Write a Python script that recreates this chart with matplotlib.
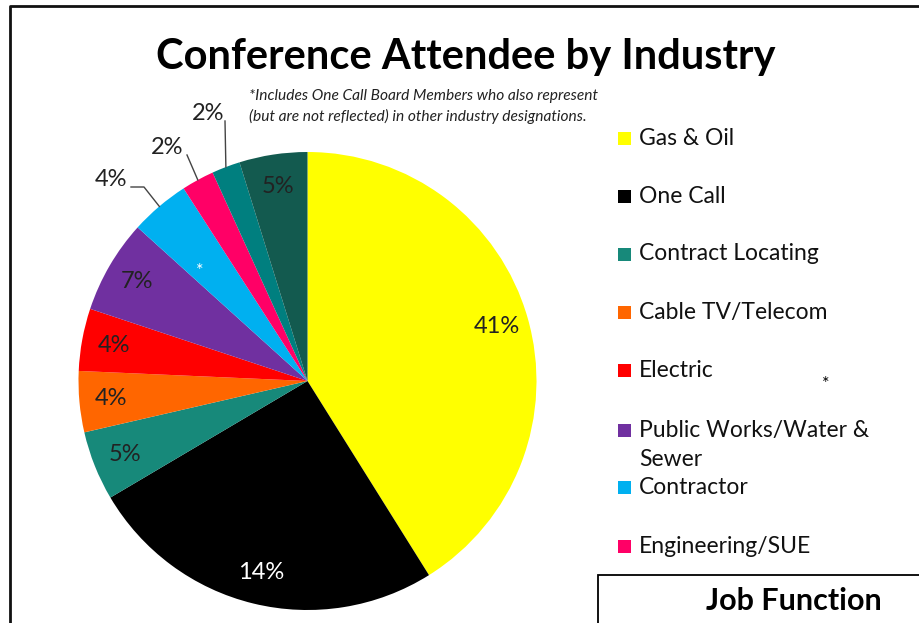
import numpy as np
import matplotlib.pyplot as plt
from matplotlib.patches import Rectangle

# slice sizes (percent of the circle)
industries = ["Gas & Oil", "One Call", "Contract Locating", "Cable TV/Telecom",
              "Electric", "Public Works/Water &\nSewer", "Contractor",
              "Engineering/SUE", "Other A", "Other B"]
shares = [41.1, 25.4, 4.9, 4.3, 4.4, 6.6, 4.2, 2.3, 2.0, 4.8]
# labels as printed on the chart
pct_labels = ["41%", "14%", "5%", "4%", "4%", "7%", "4%", "2%", "2%", "5%"]
colors = ["#FFFF00", "#000000", "#17897A", "#FF6600", "#FF0000",
          "#7030A0", "#00B0F0", "#FF0066", "#007F7F", "#135A4F"]
legend_count = 8

W, H = 920, 623
plt.rcParams['font.family'] = ['Lato', 'DejaVu Sans']

fig = plt.figure(figsize=(W / 100, H / 100), dpi=100)
ax = fig.add_axes([0, 0, 1, 1])

cx, cy, R = 307.5, H - 381, 229
wedges, _ = ax.pie(shares, colors=colors, startangle=90, counterclock=False,
                   center=(cx, cy), radius=R, wedgeprops=dict(linewidth=0))
ax.set_xlim(0, W)
ax.set_ylim(0, H)
ax.set_aspect('equal')
ax.axis('off')

def mid_dir(w):
    a = np.deg2rad((w.theta1 + w.theta2) / 2)
    return np.cos(a), np.sin(a)

lab_fs = 17

# labels inside the wedges
for i in [0, 1, 2, 3, 4, 5, 9]:
    dx, dy = mid_dir(wedges[i])
    col = "white" if i == 1 else "#222222"
    ax.text(cx + 0.86 * R * dx, cy + 0.86 * R * dy, pct_labels[i],
            ha="center", va="center", fontsize=lab_fs, color=col)

# labels outside with leader lines
def edge(i):
    dx, dy = mid_dir(wedges[i])
    return cx + R * dx, cy + R * dy

ex, ey = edge(6)
ax.text(111, H - 180, pct_labels[6], ha="center", va="center", fontsize=lab_fs, color="#222222")
ax.plot([131, 144, ex], [H - 187, H - 187, ey], color="#444444", lw=1)
ex, ey = edge(7)
ax.text(167, H - 147, pct_labels[7], ha="center", va="center", fontsize=lab_fs, color="#222222")
ax.plot([187, ex], [H - 155, ey], color="#444444", lw=1)
ex, ey = edge(8)
ax.text(208, H - 114, pct_labels[8], ha="center", va="center", fontsize=lab_fs, color="#222222")
ax.plot([225, ex], [H - 121, ey], color="#444444", lw=1)

ax.text(200, H - 271, "*", color="white", fontsize=13, ha="center", va="center")
ax.text(826, H - 384, "*", color="black", fontsize=13, ha="center", va="center")

# title and note
ax.text(466, H - 57, "Conference Attendee by Industry", ha="center", va="center",
        fontsize=30, fontweight="bold")
ax.text(249, H - 96, "*Includes One Call Board Members who also represent",
        ha="left", va="center", fontsize=11.2, style="italic", color="#222222")
ax.text(249, H - 116, "(but are not reflected) in other industry designations.",
        ha="left", va="center", fontsize=11.2, style="italic", color="#222222")

# legend
leg_y = [138.7, 196.7, 254, 312.7, 370.7, 430, 487.3, 546.7]
for k in range(legend_count):
    y = H - leg_y[k]
    ax.add_patch(Rectangle((618, y - 6.5), 13, 13, color=colors[k], lw=0))
    lines = industries[k].split("\n")
    ax.text(639, y, lines[0], ha="left", va="center", fontsize=16.5, color="#111111")
    if len(lines) > 1:
        ax.text(639, y - 30, lines[1], ha="left", va="center", fontsize=16.5, color="#111111")

# job function box
ax.add_patch(Rectangle((598, -10), 400, H - 575 + 10, fill=False, lw=1.3, edgecolor="black"))
ax.text(794, H - 601, "Job Function", ha="center", va="center", fontsize=22, fontweight="bold")

# outer frame
ax.plot([10, 10, W + 5], [-5, H - 6, H - 6], color="#111111", lw=2)

fig.savefig("out.png", dpi=100)
